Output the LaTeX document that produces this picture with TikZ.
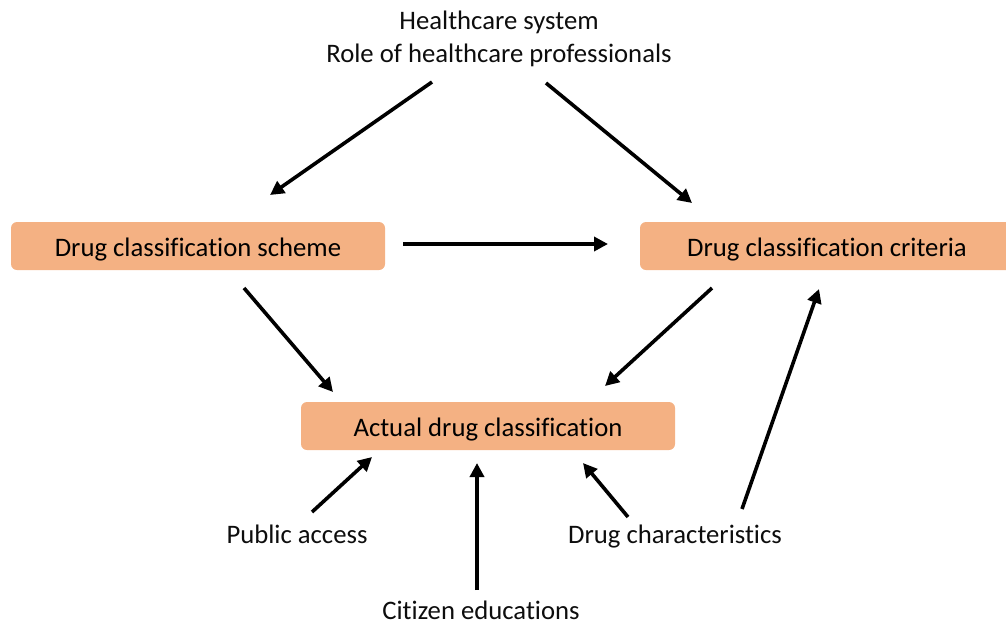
\documentclass[tikz,border=0pt]{standalone}
\usepackage{fontspec}
\setmainfont[Ligatures=NoCommon]{Carlito}
\usetikzlibrary{arrows.meta}
\definecolor{boxorange}{HTML}{F4B183}

\begin{document}
\begin{tikzpicture}[x=1pt,y=-1pt,
  box/.style={fill=boxorange,rounded corners=6pt,minimum width=374pt,minimum height=48pt,inner sep=0pt,text height=22pt,text depth=2pt},
  lbl/.style={inner sep=0pt,anchor=base,text=black!95},
  arr/.style={line width=3.6pt,-{Triangle[length=14pt,width=14pt]}}]
\useasboundingbox (0,0) rectangle (1006,625);
\fontsize{26.7}{33}\selectfont
%boxes
\node [box] (scheme) at (198,246) {Drug classification scheme};
\node [box] (criteria) at (827,246) {Drug classification criteria};
\node [box] (actual) at (488,426) {Actual drug classification};
%labels (placed on their baselines)
\node [lbl] (health) at (499,29) {Healthcare system};
\node [lbl] (role) at (499,62) {Role of healthcare professionals};
\node [lbl] (public) at (297,543) {Public access};
\node [lbl] (druchar) at (675,543) {Drug characteristics};
\node [lbl] (citizen) at (481,619) {Citizen educations};
%arrow ends
\coordinate (h1) at (432,82);   \coordinate (s1) at (270,195);
\coordinate (h2) at (546,83);   \coordinate (c1) at (692,203);
\coordinate (s2) at (403,244);  \coordinate (c2) at (608,244);
\coordinate (s3) at (244,288);  \coordinate (a1) at (333,392);
\coordinate (c3) at (712,288);  \coordinate (a2) at (605,386);
\coordinate (p1) at (312,512);  \coordinate (a3) at (372,457);
\coordinate (e1) at (477,590);  \coordinate (a4) at (477,463);
\coordinate (d1) at (628,517);  \coordinate (a5) at (583,463);
\coordinate (d2) at (742,509);  \coordinate (c4) at (819,289);
%arrows
\draw [arr] (h1) -- (s1);
\draw [arr] (h2) -- (c1);
\draw [arr] (s2) -- (c2);
\draw [arr] (s3) -- (a1);
\draw [arr] (c3) -- (a2);
\draw [arr] (p1) -- (a3);
\draw [arr] (e1) -- (a4);
\draw [arr] (d1) -- (a5);
\draw [arr] (d2) -- (c4);
\end{tikzpicture}
\end{document}
